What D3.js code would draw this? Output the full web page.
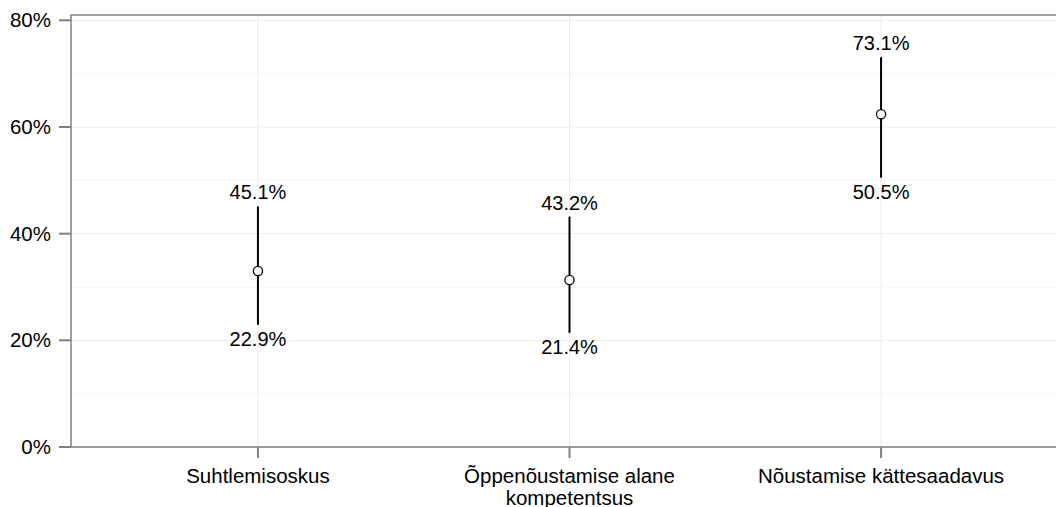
<html>
<head>
<meta charset="utf-8">
<script src="https://d3js.org/d3.v7.min.js"></script>

<style>
    body { margin: 0; background: white; }
    svg { display: block; font-family: Arial, "Liberation Sans", sans-serif; }
    .grid-major { stroke: #ebebeb; stroke-width: 1px; }
    .grid-minor { stroke: #f5f5f5; stroke-width: 1px; }
    .frame { fill: none; stroke: #808080; stroke-width: 1.5px; }
    .tick-mark { stroke: #808080; stroke-width: 2px; }
    .axis-label { font-size: 20.5px; fill: black; }
    .err { stroke: black; stroke-width: 2px; }
    .pt { fill: white; stroke: black; stroke-width: 1.3px; }
    .val { font-size: 20px; fill: black; text-anchor: middle; }
</style>
</head>
<body>
<svg width=1056 height=507></svg>

<script>

    let categories = ['Suhtlemisoskus', 'Õppenõustamise alane\nkompetentsus', 'Nõustamise kättesaadavus'];
    let means = [33.0, 31.3, 62.4];
    let lower = [22.9, 21.4, 50.5];
    let upper = [45.1, 43.2, 73.1];
    let majorTicks = [0, 20, 40, 60, 80];
    let minorTicks = [10, 30, 50, 70];

    let svg = d3.select('svg');

    let pLeft = 71, pTop = 15, pBottom = 447, pRight = 1068;

    let y = d3.scaleLinear().domain([0, 81]).range([pBottom, pTop]);
    let x = d3.scalePoint().domain(categories).range([pLeft, pRight]).padding(0.6);

    // grid
    svg.selectAll('.grid-minor')
        .data(minorTicks)
        .enter().append('line')
        .attr('class', 'grid-minor')
        .attr('x1', pLeft).attr('x2', 1056)
        .attr('y1', d => y(d)).attr('y2', d => y(d));

    svg.selectAll('.grid-major')
        .data(majorTicks)
        .enter().append('line')
        .attr('class', 'grid-major')
        .attr('x1', pLeft).attr('x2', 1056)
        .attr('y1', d => y(d)).attr('y2', d => y(d));

    svg.selectAll('.grid-v')
        .data(categories)
        .enter().append('line')
        .attr('class', 'grid-major')
        .attr('x1', d => x(d)).attr('x2', d => x(d))
        .attr('y1', pTop).attr('y2', pBottom);

    // frame
    svg.append('rect')
        .attr('class', 'frame')
        .attr('x', pLeft).attr('y', pTop)
        .attr('width', pRight - pLeft + 20).attr('height', pBottom - pTop);

    // y axis
    svg.selectAll('.ytick')
        .data(majorTicks)
        .enter().append('line')
        .attr('class', 'tick-mark')
        .attr('x1', pLeft - 12).attr('x2', pLeft)
        .attr('y1', d => y(d)).attr('y2', d => y(d));

    svg.selectAll('.ylab')
        .data(majorTicks)
        .enter().append('text')
        .attr('class', 'axis-label')
        .attr('x', 51)
        .attr('y', d => y(d) + 7)
        .attr('text-anchor', 'end')
        .text(d => d + '%');

    // x axis
    svg.selectAll('.xtick')
        .data(categories)
        .enter().append('line')
        .attr('class', 'tick-mark')
        .attr('x1', d => x(d)).attr('x2', d => x(d))
        .attr('y1', pBottom).attr('y2', pBottom + 11);

    let xlab = svg.selectAll('.xlab')
        .data(categories)
        .enter().append('text')
        .attr('class', 'axis-label')
        .attr('text-anchor', 'middle')
        .attr('y', 483);

    xlab.selectAll('tspan')
        .data(d => d.split('\n').map(s => [d, s]))
        .enter().append('tspan')
        .attr('x', d => x(d[0]))
        .attr('dy', (d, i) => i === 0 ? 0 : 22)
        .text(d => d[1]);

    // error bars
    let rows = categories.map((c, i) => ({cat: c, m: means[i], lo: lower[i], hi: upper[i]}));

    svg.selectAll('.err')
        .data(rows)
        .enter().append('line')
        .attr('class', 'err')
        .attr('x1', d => x(d.cat)).attr('x2', d => x(d.cat))
        .attr('y1', d => y(d.lo)).attr('y2', d => y(d.hi));

    svg.selectAll('.pt')
        .data(rows)
        .enter().append('circle')
        .attr('class', 'pt')
        .attr('cx', d => x(d.cat))
        .attr('cy', d => y(d.m))
        .attr('r', 4.6);

    svg.selectAll('.hi-lab')
        .data(rows)
        .enter().append('text')
        .attr('class', 'val')
        .attr('x', d => x(d.cat))
        .attr('y', d => y(d.hi) - 7)
        .text(d => d.hi.toFixed(1) + '%');

    svg.selectAll('.lo-lab')
        .data(rows)
        .enter().append('text')
        .attr('class', 'val')
        .attr('x', d => x(d.cat))
        .attr('y', d => y(d.lo) + 21.5)
        .text(d => d.lo.toFixed(1) + '%');

</script>
</body>
</html>
